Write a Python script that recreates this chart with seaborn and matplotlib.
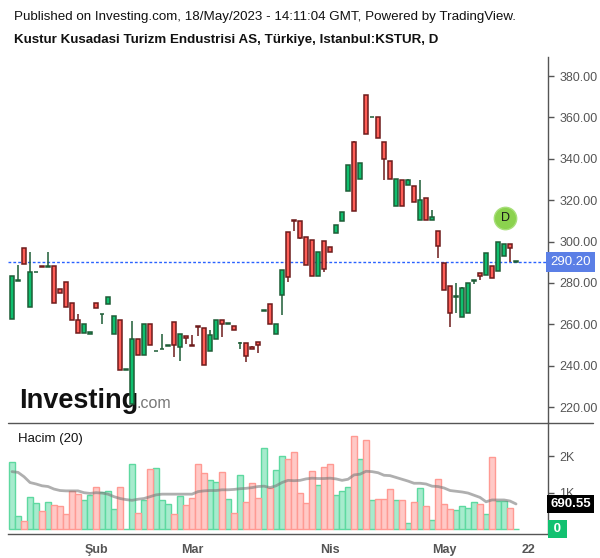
import numpy as np
import pandas as pd
import matplotlib
matplotlib.use('Agg')
import matplotlib.pyplot as plt
import matplotlib.transforms as mtransforms
from matplotlib.lines import Line2D
import seaborn as sns

# ==========================================
# DATA
# ==========================================
acilis = [262.4, 280.8, 296.7, 268.2, 285.1, 288.2, 287.6, 288.2, 276.9, 280.4,
          270.1, 262.1, 255.7, 255.2, 270.1, 264.8, 269.7, 255.2, 262.1, 237.8,
          221.5, 252.9, 245.0, 260.0, 246.9, 247.9, 249.4, 261.0, 248.9, 254.2,
          250.0, 259.1, 258.0, 247.0, 252.7, 261.9, 260.0, 259.0, 250.8, 250.8,
          248.9, 251.3, 266.3, 269.7, 255.2, 274.2, 304.6, 310.3, 309.8, 302.0,
          300.6, 283.2, 300.1, 297.2, 304.0, 309.8, 324.3, 348.0, 330.1, 370.7,
          360.0, 360.0, 348.0, 338.8, 317.0, 329.6, 327.2, 326.7, 310.3, 320.9,
          310.3, 305.0, 289.5, 278.4, 273.4, 263.4, 265.3, 280.8, 284.6, 283.7,
          288.0, 285.6, 292.9, 298.7, 290.2]
yuksek = [283.3, 288.8, 296.7, 294.9, 285.1, 288.2, 294.9, 288.2, 276.9, 280.4,
          270.1, 265.0, 260.0, 256.1, 270.1, 264.8, 273.0, 263.9, 262.1, 237.8,
          261.8, 252.9, 260.0, 260.0, 246.9, 255.2, 249.8, 261.0, 255.2, 254.2,
          254.8, 259.1, 258.0, 257.1, 261.9, 261.9, 260.7, 259.0, 251.3, 250.8,
          249.5, 251.3, 266.3, 269.7, 260.0, 286.2, 304.6, 310.3, 309.8, 302.0,
          300.6, 294.8, 300.1, 297.2, 307.8, 314.1, 336.8, 348.6, 337.8, 370.7,
          360.0, 360.0, 348.0, 338.8, 330.1, 329.6, 330.2, 326.7, 329.7, 320.9,
          315.2, 305.0, 289.5, 278.4, 279.8, 277.9, 279.8, 280.8, 284.6, 294.3,
          288.0, 299.6, 298.7, 298.7, 290.2]
dusuk = [262.4, 280.8, 289.0, 268.2, 285.1, 287.8, 287.6, 270.1, 275.0, 268.2,
         261.9, 255.7, 255.7, 255.2, 267.7, 260.3, 269.7, 255.2, 237.8, 237.8,
         221.5, 245.0, 245.0, 249.8, 246.9, 247.9, 249.4, 244.4, 242.4, 250.3,
         249.7, 254.5, 240.2, 247.0, 252.7, 253.7, 260.0, 257.1, 248.2, 241.9,
         247.9, 246.3, 266.3, 260.0, 255.2, 264.3, 280.3, 305.3, 301.4, 288.5,
         283.2, 283.2, 285.1, 294.8, 304.0, 309.8, 324.3, 315.0, 330.1, 351.8,
         360.0, 349.9, 329.9, 330.1, 317.0, 317.0, 327.2, 319.0, 310.3, 310.3,
         310.3, 291.9, 276.4, 258.9, 265.6, 263.4, 265.3, 279.6, 281.3, 283.7,
         282.2, 285.6, 292.9, 290.1, 290.2]
kapanis = [283.3, 280.8, 289.0, 285.1, 285.1, 287.8, 288.0, 270.1, 275.0, 268.2,
           261.9, 255.7, 260.0, 256.1, 267.7, 264.8, 273.0, 263.9, 237.8, 237.8,
           252.9, 245.0, 260.0, 249.8, 246.9, 247.9, 249.8, 249.8, 255.2, 253.2,
           249.7, 258.8, 240.2, 254.7, 261.9, 260.0, 260.0, 257.1, 250.8, 244.5,
           247.9, 249.8, 266.3, 260.0, 260.0, 286.2, 282.7, 310.0, 301.9, 288.5,
           283.2, 294.8, 286.6, 294.8, 307.8, 314.1, 336.8, 315.0, 337.8, 351.8,
           360.0, 349.9, 339.8, 330.1, 330.1, 317.0, 329.6, 319.0, 319.9, 310.3,
           311.7, 297.7, 276.4, 265.3, 273.4, 277.4, 279.8, 280.8, 283.2, 294.3,
           282.2, 299.6, 298.7, 296.7, 290.2]
hacim = [1840, 350, 210, 870, 710, 490, 730, 650, 620, 410,
         1060, 960, 790, 940, 1150, 1020, 1060, 550, 1150, 10,
         1790, 450, 810, 1650, 1680, 810, 690, 410, 900, 650,
         850, 1800, 1530, 1350, 1300, 1560, 820, 440, 1490, 740,
         1270, 850, 2230, 1130, 1620, 2010, 1920, 2110, 980, 710,
         1600, 1210, 1700, 1790, 930, 1050, 1170, 2560, 1920, 2450,
         790, 820, 820, 1100, 790, 790, 170, 730, 1120, 630,
         250, 1380, 690, 540, 520, 630, 580, 730, 690, 400,
         1970, 760, 760, 580, 10]
hacim_ort = [1580, 1560, 1440, 1280, 1240, 1190, 1170, 1100, 1060, 1050,
             1050, 1050, 1000, 980, 1000, 990, 960, 890, 840, 810,
             790, 820, 840, 890, 940, 960, 960, 960, 960, 960,
             960, 1030, 1050, 1060, 1060, 1080, 1080, 1090, 1110, 1120,
             1140, 1170, 1180, 1140, 1190, 1280, 1340, 1330, 1340, 1380,
             1400, 1390, 1390, 1400, 1380, 1340, 1370, 1490, 1510, 1590,
             1580, 1550, 1480, 1470, 1420, 1370, 1320, 1260, 1260, 1240,
             1180, 1170, 1130, 1060, 1040, 1020, 990, 930, 870, 750,
             800, 800, 800, 770, 690]
ay_konum = [14, 30, 53, 72, 86]
ay_etiket = ['Şub', 'Mar', 'Nis', 'May', '22']
son_fiyat = 290.20
son_hacim_ort = 690.55

df = pd.DataFrame({'o': acilis, 'h': yuksek, 'l': dusuk, 'c': kapanis,
                   'v': hacim, 'ma': hacim_ort})
df['x'] = np.arange(len(df))
df['up'] = df['c'] >= df['o']

# ==========================================
# STYLE
# ==========================================
sns.set_theme(style="white")
plt.rcParams['font.family'] = ['Liberation Sans', 'DejaVu Sans']

W, H = 600, 558
fig = plt.figure(figsize=(6, 5.58), dpi=100)

def fx(px):
    return px / W

def fy(py):
    return 1 - py / H

ax = fig.add_axes([fx(8), fy(423), fx(548) - fx(8), fy(57) - fy(423)])
ax2 = fig.add_axes([fx(8), fy(534), fx(548) - fx(8), fy(423) - fy(534)], sharex=ax)

XMIN, XMAX = -0.67, 89.33
xanh_than, xanh_vien = '#0fbf6e', '#1d5c36'
do_than, do_vien = '#ff5e57', '#6e1b1b'
xam = '#555555'

# ==========================================
# CANDLES
# ==========================================
for _, r in df.iterrows():
    fill = xanh_than if r['up'] else do_than
    edge = xanh_vien if r['up'] else do_vien
    ax.vlines(r['x'], r['l'], r['h'], color=edge, lw=1.1, zorder=3)
    lo = min(r['o'], r['c'])
    hgt = max(abs(r['c'] - r['o']), 0.4)
    ax.bar(r['x'], hgt, bottom=lo, width=0.72, color=fill, edgecolor=edge,
           linewidth=1.1, zorder=4)

ax.axhline(son_fiyat, color='#2962ff', lw=1, ls=(0, (2, 1.5)), zorder=2)

ax.set_xlim(XMIN, XMAX)
ax.set_ylim(212.3, 389.2)
ax.yaxis.tick_right()
ax.set_yticks(np.arange(220, 381, 20))
ax.set_yticklabels([f'{v:.2f}' for v in np.arange(220, 381, 20)])
ax.tick_params(axis='y', colors=xam, labelsize=9, length=4, width=1, direction='out', pad=4)
ax.tick_params(axis='x', bottom=False, labelbottom=False)
for s in ['top', 'left', 'bottom']:
    ax.spines[s].set_visible(False)
ax.spines['right'].set_color(xam)
ax.spines['right'].set_linewidth(1)

# last price tag
tr = mtransforms.blended_transform_factory(ax.transAxes, ax.transData)
ax.text(1.004, son_fiyat, f'{son_fiyat:.2f}', transform=tr, ha='left', va='center',
        color='white', fontsize=9.5, zorder=10, clip_on=False,
        bbox=dict(boxstyle='square,pad=0.3', fc='#5b7fe6', ec='none'))

# D marker (round in screen space)
ax.scatter([82.2], [311.4], s=260, color='#8bd24e', edgecolor='#a8df7a', lw=1, zorder=6)
ax.text(82.2, 311.4, 'D', ha='center', va='center', fontsize=9, color='#1a1a1a', zorder=7)

# Investing watermark, behind the candles
ax.text(fx(19), fy(401), 'Investing', transform=fig.transFigure, fontsize=19.5,
        fontweight='bold', color='#111111', va='center', ha='left', zorder=1)
ax.text(fx(137), fy(403), '.com', transform=fig.transFigure, fontsize=11.5,
        color='#777777', va='center', ha='left', zorder=1)

# ==========================================
# VOLUME
# ==========================================
up = df[df['up']]
dn = df[~df['up']]
sns.barplot(data=up, x='x', y='v', native_scale=True, width=0.9, color='#a6ebcd',
            saturation=1, edgecolor='#5ed9a0', linewidth=1, errorbar=None, ax=ax2)
sns.barplot(data=dn, x='x', y='v', native_scale=True, width=0.9, color='#ffc9c6',
            saturation=1, edgecolor='#ff9a93', linewidth=1, errorbar=None, ax=ax2)
sns.lineplot(data=df, x='x', y='ma', color='#7a7a7a', lw=2, alpha=0.6, ax=ax2)

ax2.set_xlim(XMIN, XMAX)
ax2.set_ylim(-138, 2920)
ax2.set_xlabel('')
ax2.set_ylabel('')
ax2.yaxis.tick_right()
ax2.set_yticks([1000, 2000])
ax2.set_yticklabels(['1K', '2K'])
ax2.tick_params(axis='y', colors=xam, labelsize=9, length=4, width=1, pad=4)
ax2.set_xticks(ay_konum)
ax2.set_xticklabels(ay_etiket)
ax2.tick_params(axis='x', colors=xam, labelsize=9, length=4, width=1, pad=3)
for lab in ax2.get_xticklabels():
    lab.set_fontweight('bold')
for s in ['top', 'left']:
    ax2.spines[s].set_visible(False)
for s in ['right', 'bottom']:
    ax2.spines[s].set_color(xam)
    ax2.spines[s].set_linewidth(1)

tr2 = mtransforms.blended_transform_factory(ax2.transAxes, ax2.transData)
ax2.text(1.004, son_hacim_ort, f'{son_hacim_ort:.2f}', transform=tr2, ha='left', va='center',
         color='white', fontsize=9.5, fontweight='bold', clip_on=False, zorder=10,
         bbox=dict(boxstyle='square,pad=0.25', fc='black', ec='none'))
ax2.text(1.004, 0, ' 0 ', transform=tr2, ha='left', va='center',
         color='white', fontsize=9.5, fontweight='bold', clip_on=False, zorder=10,
         bbox=dict(boxstyle='square,pad=0.2', fc='#11c170', ec='none'))
ax2.text(0.019, 0.86, 'Hacim (20)', transform=ax2.transAxes, fontsize=9.5,
         color='#111111', ha='left', va='center')

# separator between panels (runs across the price scale)
fig.add_artist(Line2D([fx(8), fx(593)], [fy(423), fy(423)], color=xam, lw=1))

# ==========================================
# HEADER
# ==========================================
baslik_font = ['Liberation Sans Narrow', 'Liberation Sans', 'DejaVu Sans']
fig.text(fx(14), fy(17), 'Published on Investing.com, 18/May/2023 - 14:11:04 GMT, Powered by TradingView.',
         fontsize=9.6, family=baslik_font, color='#111111', va='center', ha='left')
fig.text(fx(14), fy(40), 'Kustur Kusadasi Turizm Endustrisi AS, Türkiye, Istanbul:KSTUR, D',
         fontsize=9.6, family=baslik_font, fontweight='bold', color='#111111', va='center', ha='left')

fig.savefig('out.png', dpi=100)
